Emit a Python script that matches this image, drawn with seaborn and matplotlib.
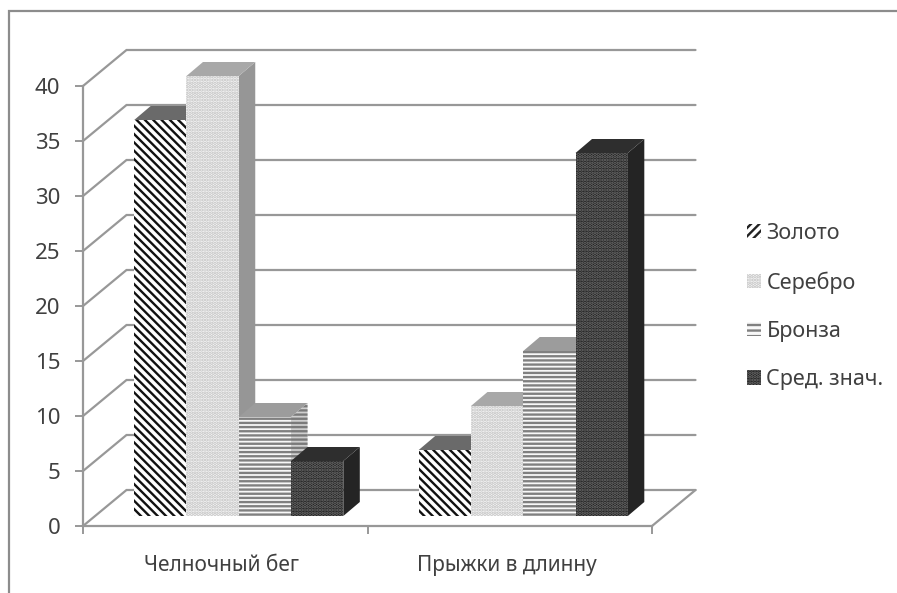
import matplotlib
matplotlib.use("Agg")
import matplotlib.pyplot as plt
from matplotlib.lines import Line2D
from matplotlib.patches import Patch, Polygon
import pandas as pd
import seaborn as sns

# Values per exercise and medal group
exercises = ["Челночный бег", "Прыжки в длинну"]
series_names = ["Золото", "Серебро", "Бронза", "Сред. знач."]
gold = [36, 6]
silver = [40, 10]
bronze = [9, 15]
average = [5, 33]
y_ticks = list(range(0, 45, 5))

W, H, DPI = 897, 593, 100
AX_L, AX_R, AX_B, AX_T = 83, 652, 526, 86
PX_X = (AX_R - AX_L) / 2   # pixels per category
PX_Y = (AX_B - AX_T) / 40  # pixels per value unit

# Pseudo-3D offsets expressed in data units
WALL_DX, WALL_DY = 43.5 / PX_X, 36 / PX_Y
BAR_DX, BAR_DY = 13.5 / PX_X, 10 / PX_Y
DEPTH_DX, DEPTH_DY = 16.5 / PX_X, 14 / PX_Y

# Face styling for each series: front, hatch, hatch colour, top, side
styles = [
    dict(face="#ffffff", hatch="\\\\\\\\", lhatch="////", hc="#111111", top="#6a6a6a", side="#6a6a6a", shatch=None),
    dict(face="#f6f6f6", hatch=".....", lhatch=".....", hc="#c0c0c0", top="#a8a8a8", side="#969696", shatch=None),
    dict(face="#f8f8f8", hatch="----", lhatch="---", hc="#808080", top="#9c9c9c", side="#cfcfcf", shatch="----"),
    dict(face="#1e1e1e", hatch=".....", lhatch=".....", hc="#707070", top="#2e2e2e", side="#242424", shatch=None),
]

sns.set_theme(style="white")
plt.rcParams["font.family"] = ["Noto Sans", "DejaVu Sans"]
plt.rcParams["hatch.linewidth"] = 1.7
TEXT = "#404040"
LINE = "#989898"

records = pd.DataFrame({
    "exercise": exercises * 4,
    "series": [s for s in series_names for _ in exercises],
    "value": gold + silver + bronze + average,
})

fig = plt.figure(figsize=(W / DPI, H / DPI), dpi=DPI, facecolor="white")
ax = fig.add_axes([AX_L / W, 1 - AX_B / H, (AX_R - AX_L) / W, (AX_B - AX_T) / H])

sns.barplot(
    data=records, x="exercise", y="value", hue="series",
    hue_order=series_names, order=exercises,
    palette=[s["face"] for s in styles], width=0.735, gap=0,
    saturation=1, legend=False, ax=ax, zorder=3,
)
ax.set_xlim(-0.5, 1.5)
ax.set_ylim(0, 40)
ax.set_xlabel("")
ax.set_ylabel("")

# Back wall gridlines with their diagonal links to the value axis
for v in y_ticks:
    ax.plot([-0.5, -0.5 + WALL_DX, 1.5 + WALL_DX],
            [v, v + WALL_DY, v + WALL_DY],
            color=LINE, lw=1.6, clip_on=False, zorder=1, solid_joinstyle="miter")
# Right edge of the floor
ax.plot([1.5, 1.5 + WALL_DX], [0, WALL_DY], color=LINE, lw=1.6, clip_on=False, zorder=1)

# Lift each bar on to the floor and add its top and side faces
for idx, (container, st) in enumerate(zip(ax.containers, styles)):
    for bar in container:
        height = bar.get_height()
        x0 = bar.get_x() + BAR_DX
        x1 = x0 + bar.get_width()
        y0 = BAR_DY
        y1 = y0 + height
        bar.set_x(x0)
        bar.set_y(y0)
        bar.set_clip_on(False)
        bar.set_zorder(5 + idx * 3)
        bar.set_facecolor(st["face"])
        bar.set_edgecolor(st["hc"])
        bar.set_hatch(st["hatch"])
        bar.set_linewidth(0)
        ax.add_patch(Polygon(
            [(x1, y0), (x1 + DEPTH_DX, y0 + DEPTH_DY), (x1 + DEPTH_DX, y1 + DEPTH_DY), (x1, y1)],
            closed=True, facecolor=st["side"], edgecolor="#7a7a7a" if st["shatch"] else st["side"],
            hatch=st["shatch"], linewidth=0, clip_on=False, zorder=3 + idx * 3))
        ax.add_patch(Polygon(
            [(x0, y1), (x1, y1), (x1 + DEPTH_DX, y1 + DEPTH_DY), (x0 + DEPTH_DX, y1 + DEPTH_DY)],
            closed=True, facecolor=st["top"], edgecolor=st["top"],
            linewidth=0, clip_on=False, zorder=4 + idx * 3))

# Axes
for name in ("top", "right"):
    ax.spines[name].set_visible(False)
for name in ("left", "bottom"):
    ax.spines[name].set_color(LINE)
    ax.spines[name].set_linewidth(1.6)
ax.set_yticks(y_ticks)
ax.tick_params(axis="y", left=True, length=5.8, width=1.4, color=LINE,
               pad=10.5, labelsize=16, labelcolor=TEXT)
ax.set_xticks([-0.5, 0.5, 1.5], labels=["", "", ""])
ax.set_xticks([-0.012, 0.99], labels=exercises, minor=True)
ax.tick_params(axis="x", which="major", bottom=True, length=5.8, width=1.4, color=LINE)
ax.tick_params(axis="x", which="minor", bottom=False, length=0, pad=21,
               labelsize=15, labelcolor=TEXT)

# Legend with small hatched swatches
handles = [Patch(facecolor=s["face"], edgecolor=s["hc"] if i != 0 else "#222222",
                 hatch=s["lhatch"], linewidth=0) for i, s in enumerate(styles)]
fig.legend(handles, series_names, loc="center left", bbox_to_anchor=(747 / W, 1 - 306.5 / H),
           frameon=False, fontsize=15.5, labelcolor=TEXT, handlelength=0.65, handleheight=0.65,
           handletextpad=0.25, labelspacing=1.27, borderpad=0, borderaxespad=0)

# Outer chart frame
fig.add_artist(Line2D([9 / W, 9 / W, 1], [0, 1 - 11 / H, 1 - 11 / H],
                      transform=fig.transFigure, color="#8c8c8c", lw=1.6,
                      solid_joinstyle="miter"))

fig.savefig("out.png", dpi=DPI, facecolor="white")
